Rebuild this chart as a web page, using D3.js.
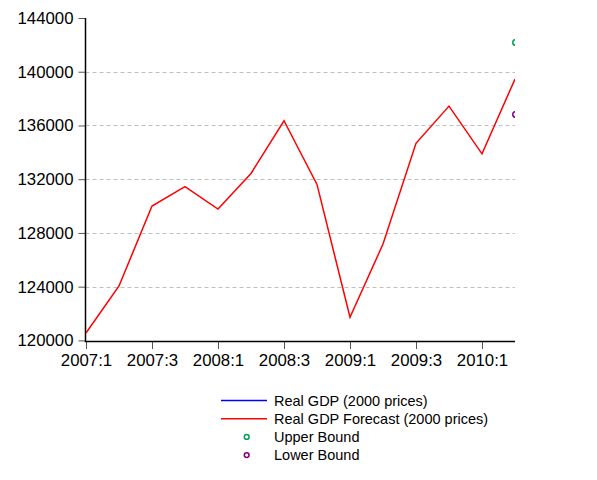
<!DOCTYPE html>
<html>
<head>
<meta charset="utf-8">
<script src="https://cdn.jsdelivr.net/npm/d3@7"></script>
<style>
  html, body { margin: 0; padding: 0; background: #fff; }
  svg { display: block; font-family: Arial, "Liberation Sans", sans-serif; }
</style>
</head>
<body>
<svg id="chart" width="597" height="480"></svg>
<script>
const quarters = ["2007:1","2007:2","2007:3","2007:4","2008:1","2008:2","2008:3","2008:4",
                  "2009:1","2009:2","2009:3","2009:4","2010:1","2010:2"];
const forecastValues = [120550,124050,130000,131440,129780,132430,136350,131610,
                        121720,127170,134670,137440,133890,139450];
const realGdpValues = [];
const upperBound = [{q: "2010:2", v: 142180}];
const lowerBound = [{q: "2010:2", v: 136820}];
const yTicks = [120000,124000,128000,132000,136000,140000,144000];
const xTickLabels = ["2007:1","2007:3","2008:1","2008:3","2009:1","2009:3","2010:1"];
const legendItems = [
  {label: "Real GDP (2000 prices)", type: "line", color: "#0000ff"},
  {label: "Real GDP Forecast (2000 prices)", type: "line", color: "#ff0000"},
  {label: "Upper Bound", type: "circle", color: "#00a050"},
  {label: "Lower Bound", type: "circle", color: "#800080"}
];

(function () {
const svg = d3.select("#chart");
const pLeft = 85.5, pRight = 515, pBottom = 341;

const x = d3.scalePoint().domain(quarters).range([86, 515]);
const y = d3.scaleLinear().domain([120000, 144000]).range([340.4, 18]);

svg.append("defs").append("clipPath").attr("id", "plotclip")
  .append("rect").attr("x", pLeft).attr("y", 0).attr("width", pRight - pLeft).attr("height", pBottom);

// gridlines
svg.append("g").selectAll("line")
  .data(yTicks.filter(d => d > 120000 && d < 144000))
  .join("line")
  .attr("x1", pLeft).attr("x2", pRight)
  .attr("y1", d => Math.round(y(d)) + 0.5).attr("y2", d => Math.round(y(d)) + 0.5)
  .attr("stroke", "#c0c0c0").attr("stroke-width", 1).attr("stroke-dasharray", "4,3");

// y axis
const yAxis = svg.append("g").attr("transform", `translate(${pLeft},0)`)
  .call(d3.axisLeft(y).tickValues(yTicks).tickFormat(d3.format("d")).tickSize(7).tickSizeOuter(0).tickPadding(5));
yAxis.select(".domain").remove();
yAxis.selectAll(".tick line").attr("stroke", "#555");
yAxis.selectAll("text").attr("font-size", "16.8px").attr("fill", "#000")
  .attr("font-family", "Arial, 'Liberation Sans', sans-serif");
svg.append("line").attr("x1", pLeft).attr("x2", pLeft).attr("y1", y(144000)).attr("y2", pBottom + 0.5)
  .attr("stroke", "#000").attr("stroke-width", 1.5);

// x axis
const xAxis = svg.append("g").attr("transform", `translate(0,${pBottom})`)
  .call(d3.axisBottom(x).tickValues(xTickLabels).tickSize(8).tickSizeOuter(0).tickPadding(5));
xAxis.select(".domain").remove();
xAxis.selectAll(".tick line").attr("stroke", "#555");
xAxis.selectAll("text").attr("font-size", "16.8px").attr("fill", "#000")
  .attr("font-family", "Arial, 'Liberation Sans', sans-serif");
svg.append("line").attr("x1", pLeft - 0.75).attr("x2", pRight).attr("y1", pBottom + 0.5).attr("y2", pBottom + 0.5)
  .attr("stroke", "#000").attr("stroke-width", 1.5);

// lines
const line = d3.line().x((d, i) => x(quarters[i])).y(d => y(d));
const plot = svg.append("g").attr("clip-path", "url(#plotclip)");
if (realGdpValues.length) {
  plot.append("path").datum(realGdpValues).attr("d", line)
    .attr("fill", "none").attr("stroke", "#0000ff").attr("stroke-width", 1.5);
}
plot.append("path").datum(forecastValues).attr("d", line)
  .attr("fill", "none").attr("stroke", "#ff0000").attr("stroke-width", 1.5);

plot.selectAll("circle.ub").data(upperBound).join("circle").attr("class", "ub")
  .attr("cx", d => x(d.q) + 0.5).attr("cy", d => y(d.v)).attr("r", 2.7)
  .attr("fill", "none").attr("stroke", "#00a050").attr("stroke-width", 1.5);
plot.selectAll("circle.lb").data(lowerBound).join("circle").attr("class", "lb")
  .attr("cx", d => x(d.q) + 0.5).attr("cy", d => y(d.v)).attr("r", 2.7)
  .attr("fill", "none").attr("stroke", "#800080").attr("stroke-width", 1.5);

// legend
const legend = svg.append("g").attr("transform", "translate(221,400.5)");
const rows = legend.selectAll("g").data(legendItems).join("g")
  .attr("transform", (d, i) => `translate(0,${i * 18.2})`);
rows.filter(d => d.type === "line").append("line")
  .attr("x1", 0).attr("x2", 46).attr("y1", 0).attr("y2", 0)
  .attr("stroke", d => d.color).attr("stroke-width", 1.5);
rows.filter(d => d.type === "circle").append("circle")
  .attr("cx", 25.7).attr("cy", 0).attr("r", 2.4)
  .attr("fill", "none").attr("stroke", d => d.color).attr("stroke-width", 1.5);
rows.append("text").attr("x", 53).attr("y", 0).attr("dy", "0.36em")
  .attr("font-size", "14.5px").attr("fill", "#000").text(d => d.label);
})();
</script>
</body>
</html>
